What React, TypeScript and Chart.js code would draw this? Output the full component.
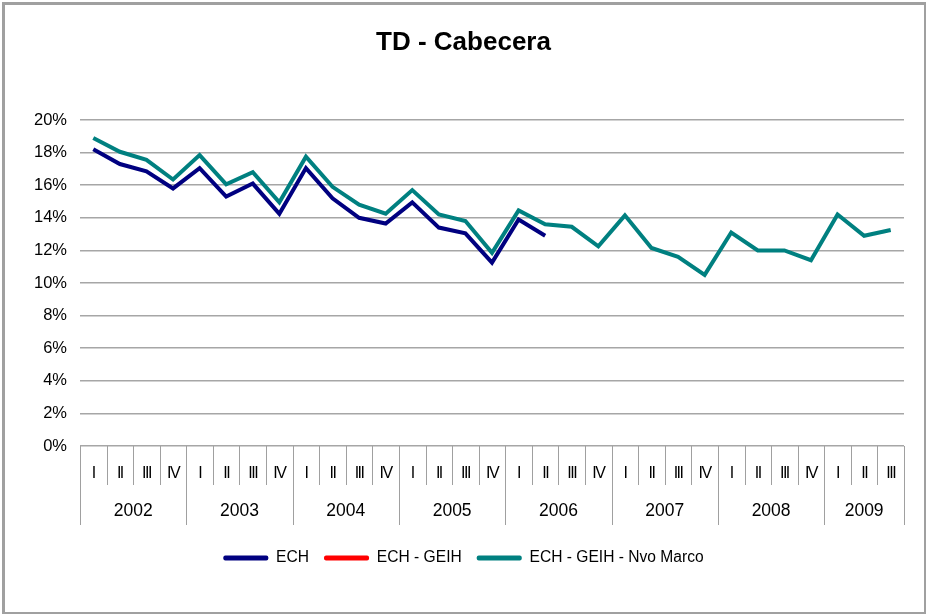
import React, { useEffect, useRef } from "react";
import { Chart, registerables } from "chart.js";

Chart.register(...registerables);

const years = ["2002", "2003", "2004", "2005", "2006", "2007", "2008", "2009"];
const quartersPerYear = [4, 4, 4, 4, 4, 4, 4, 3];
const quarterNames = ["I", "II", "III", "IV"];

const ech: (number | null)[] = [
  18.2, 17.3, 16.85, 15.8,
  17.05, 15.3, 16.1, 14.25,
  17.05, 15.2, 14.0, 13.65,
  14.95, 13.4, 13.05, 11.25,
  13.9, 12.9,
];
const echGeih: (number | null)[] = [];
const echGeihNvoMarco: (number | null)[] = [
  18.9, 18.05, 17.55, 16.35,
  17.85, 16.05, 16.8, 14.95,
  17.75, 15.9, 14.8, 14.25,
  15.7, 14.2, 13.8, 11.85,
  14.45, 13.6, 13.45, 12.25,
  14.15, 12.15, 11.6, 10.5,
  13.1, 12.0, 12.0, 11.4,
  14.2, 12.9, 13.25,
];

const yMin = 0;
const yMax = 20;
const yStep = 2;

const seriesNames = ["ECH", "ECH - GEIH", "ECH - GEIH - Nvo Marco"];
const seriesColors = ["#000080", "#ff0000", "#008080"];

const FONT = '"Liberation Sans", Arial, Helvetica, sans-serif';

const labels: string[] = years.flatMap((y, i) =>
  quarterNames.slice(0, quartersPerYear[i]).map((q) => `${q} ${y}`)
);
const quarterOnly: string[] = years.flatMap((_, i) => quarterNames.slice(0, quartersPerYear[i]));

const twoLevelAxis = {
  id: "twoLevelAxis",
  afterDraw(chart: any) {
    const { ctx, chartArea, scales } = chart;
    const x = scales.x;
    const n = labels.length;
    const step = n > 1 ? x.getPixelForValue(1) - x.getPixelForValue(0) : x.width;
    const edge = (i: number) => x.getPixelForValue(i) - step / 2;
    const top = chartArea.bottom;
    const yearBounds = new Set<number>([0]);
    let acc = 0;
    quartersPerYear.forEach((c) => {
      acc += c;
      yearBounds.add(acc);
    });
    ctx.save();
    ctx.strokeStyle = "#a0a0a0";
    ctx.lineWidth = 1;
    for (let i = 0; i <= n; i++) {
      const px = Math.round(edge(i)) + 0.5;
      const len = yearBounds.has(i) ? 79 : 39;
      ctx.beginPath();
      ctx.moveTo(px, top);
      ctx.lineTo(px, top + len);
      ctx.stroke();
    }
    ctx.fillStyle = "#000";
    ctx.textAlign = "center";
    ctx.textBaseline = "middle";
    ctx.font = `16px ${FONT}`;
    try {
      (ctx as any).letterSpacing = "-1.5px";
    } catch (e) {}
    for (let i = 0; i < n; i++) {
      ctx.fillText(quarterOnly[i], x.getPixelForValue(i), top + 28);
    }
    try {
      (ctx as any).letterSpacing = "0px";
    } catch (e) {}
    ctx.font = `17.5px ${FONT}`;
    let start = 0;
    years.forEach((y, yi) => {
      const end = start + quartersPerYear[yi];
      const cx = (edge(start) + edge(end)) / 2;
      ctx.fillText(y, cx, top + 65);
      start = end;
    });
    ctx.restore();
  },
};

export default function App() {
  const canvasRef = useRef<HTMLCanvasElement | null>(null);

  useEffect(() => {
    document.body.style.margin = "0";
    const canvas = canvasRef.current;
    if (!canvas) return;
    const data = [ech, echGeih, echGeihNvoMarco];
    const chart = new Chart(canvas, {
      type: "line",
      data: {
        labels,
        datasets: seriesNames.map((name, i) => ({
          label: name,
          data: data[i],
          borderColor: seriesColors[i],
          backgroundColor: seriesColors[i],
          borderWidth: 4,
          pointRadius: 0,
          pointHoverRadius: 0,
          tension: 0,
          fill: false,
          spanGaps: false,
          order: 3 - i,
        })),
      },
      options: {
        responsive: false,
        devicePixelRatio: 1,
        animation: false,
        layout: { padding: { left: 0, right: 0, top: 0, bottom: 39.2 } },
        plugins: {
          title: {
            display: true,
            text: "TD - Cabecera",
            color: "#000",
            font: { family: FONT, size: 26, weight: "bold" },
            padding: { top: 27, bottom: 61.8 },
          },
          legend: {
            display: true,
            position: "bottom",
            labels: {
              color: "#000",
              font: { family: FONT, size: 15.6 },
              boxWidth: 45,
              boxHeight: 5,
              padding: 15,
              generateLabels: (c: any) =>
                c.data.datasets.map((ds: any, i: number) => ({
                  text: ds.label,
                  fillStyle: ds.borderColor,
                  strokeStyle: ds.borderColor,
                  lineWidth: 0,
                  hidden: false,
                  datasetIndex: i,
                  fontColor: "#000",
                  borderRadius: 2,
                })),
            },
          },
          tooltip: { enabled: false },
        },
        scales: {
          x: {
            type: "category",
            offset: true,
            grid: { display: false, offset: true },
            border: { display: false },
            ticks: { display: false },
            afterFit: (s: any) => {
              s.height = 89.2;
            },
          },
          y: {
            position: "left",
            min: yMin,
            max: yMax,
            ticks: {
              stepSize: yStep,
              padding: 13,
              color: "#000",
              font: { family: FONT, size: 16.5 },
              callback: (v: any) => `${v}%`,
            },
            grid: { color: "#a6a6a6", lineWidth: 1.5, drawTicks: false },
            border: { display: false },
            afterFit: (s: any) => {
              s.width = 80;
            },
          },
          yRight: {
            position: "right",
            display: true,
            grid: { display: false },
            border: { display: false },
            ticks: { display: false },
            afterFit: (s: any) => {
              s.width = 23;
            },
          },
        },
      },
      plugins: [twoLevelAxis],
    });
    return () => chart.destroy();
  }, []);

  return (
    <div style={{ position: "fixed", left: 0, top: 0, width: 927, height: 615, background: "#fff" }}>
      <canvas ref={canvasRef} width={927} height={615} style={{ display: "block" }} />
      <div
        style={{
          position: "absolute",
          left: 2,
          top: 2,
          width: 924,
          height: 612,
          boxSizing: "border-box",
          borderStyle: "solid",
          borderColor: "#a0a0a0",
          borderWidth: "3px 2px 2px 3px",
          pointerEvents: "none",
        }}
      />
    </div>
  );
}
